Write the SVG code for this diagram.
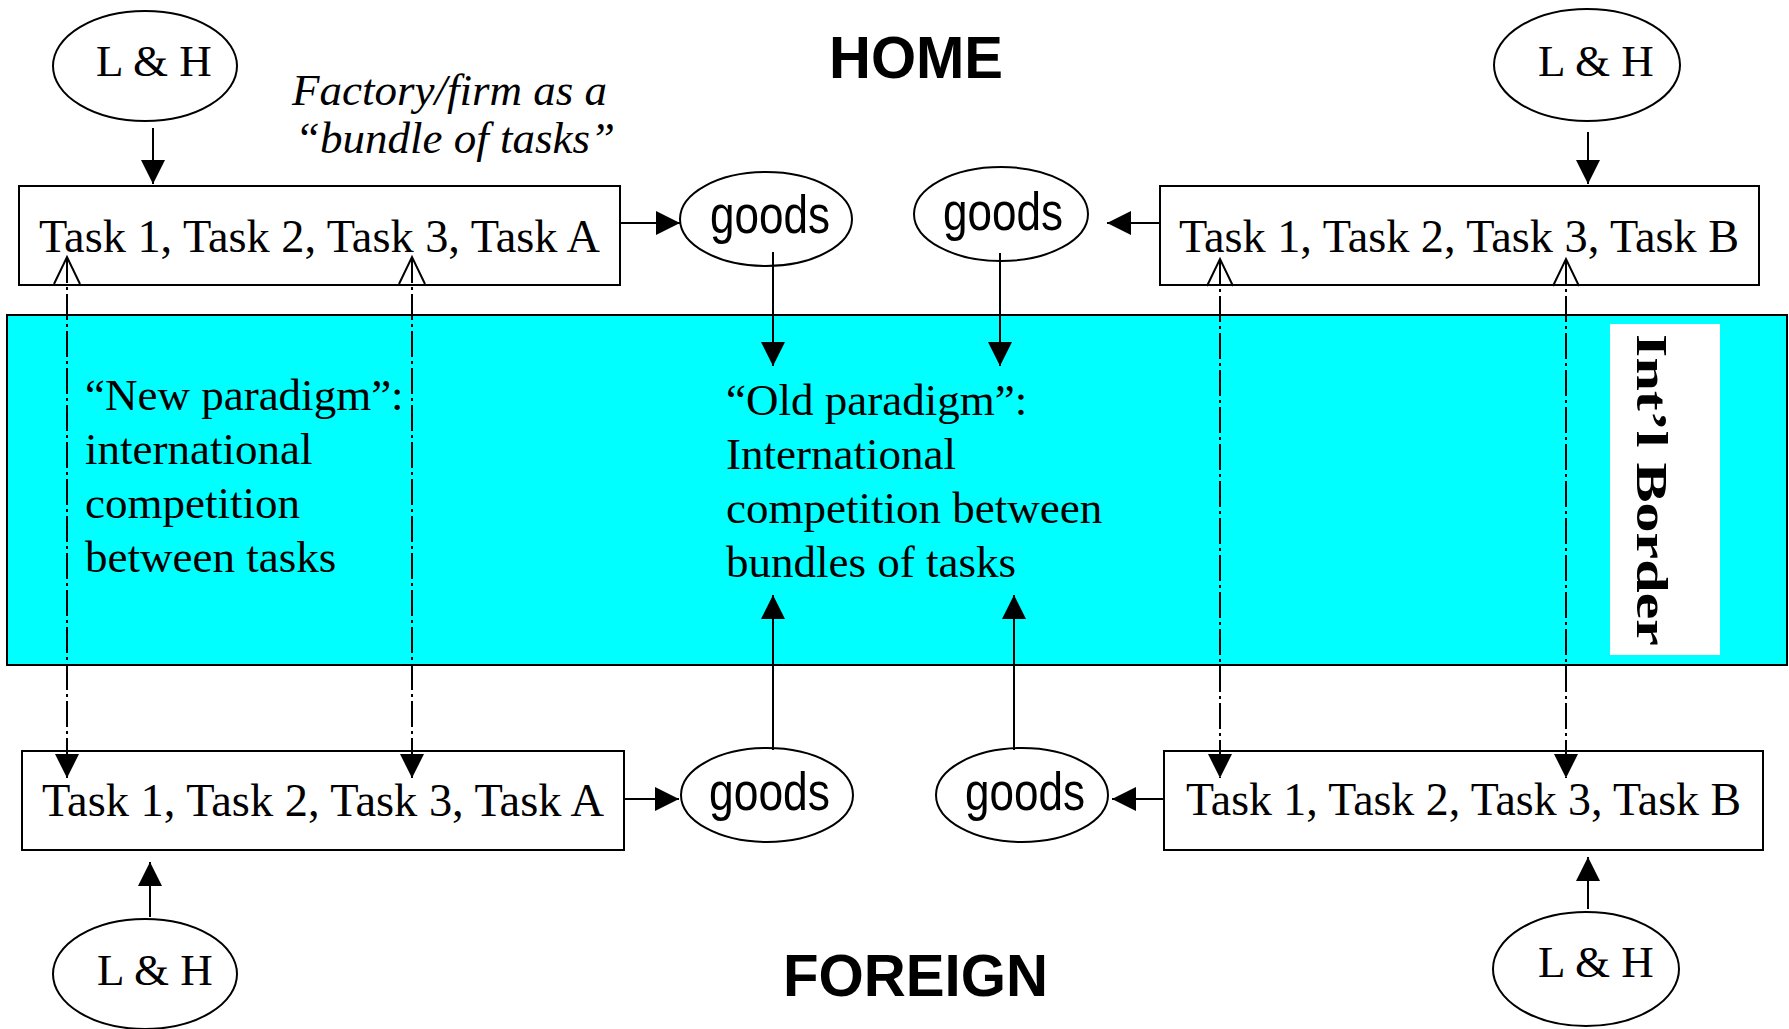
<svg xmlns="http://www.w3.org/2000/svg" width="1789" height="1029" viewBox="0 0 1789 1029">
<style>
.box{fill:#fff;stroke:#000;stroke-width:2}
.ell{fill:#fff;stroke:#000;stroke-width:2}
.t{font-family:"Liberation Serif","Times New Roman",serif;font-size:45px;fill:#000}
.tk{font-family:"Liberation Serif","Times New Roman",serif;font-size:47px;fill:#000}
.it{font-style:italic}
.g{font-family:"Liberation Sans",Arial,sans-serif;font-size:53px;fill:#000}
.hd{font-family:"Liberation Sans",Arial,sans-serif;font-weight:bold;font-size:59px;fill:#000}
.ln{fill:none;stroke:#000;stroke-width:2}
.dd{fill:none;stroke:#000;stroke-width:2;stroke-dasharray:26 4 3 4}
</style>
<defs>
<marker id="ah" markerUnits="userSpaceOnUse" viewBox="0 0 24 24" refX="24" refY="12" markerWidth="24" markerHeight="24" orient="auto">
<path d="M0,0 L24,12 L0,24 z" fill="#000" stroke="none"/>
</marker>
<marker id="oh" markerUnits="userSpaceOnUse" viewBox="-2 -2 32 32" refX="27" refY="13" markerWidth="32" markerHeight="32" orient="auto-start-reverse">
<path d="M0,0 L27,13 L0,26" fill="none" stroke="#000" stroke-width="2" stroke-dasharray="none"/>
</marker>
</defs>

<g id="border">
<rect x="7" y="315" width="1780" height="350" fill="#00ffff" stroke="#000" stroke-width="2"/>
<rect x="1610" y="324" width="110" height="331" fill="#fff"/>
<text class="t" font-weight="bold" font-size="75" text-anchor="middle" textLength="312" lengthAdjust="spacingAndGlyphs" transform="translate(1637,490) rotate(90)">Int’l Border</text>
</g>

<g id="labels">
<text class="hd" x="829" y="78" textLength="174" lengthAdjust="spacingAndGlyphs">HOME</text>
<text class="hd" x="783" y="996" textLength="265" lengthAdjust="spacingAndGlyphs">FOREIGN</text>
<text class="t it" x="292" y="105">Factory/firm as a</text>
<text class="t it" x="295" y="153">“bundle of tasks”</text>
</g>

<g id="new-paradigm">
<text class="t" x="85" y="410">“New paradigm”:</text>
<text class="t" x="85" y="464">international</text>
<text class="t" x="85" y="518">competition</text>
<text class="t" x="85" y="572">between tasks</text>
</g>

<g id="old-paradigm">
<text class="t" x="726" y="415">“Old paradigm”:</text>
<text class="t" x="726" y="469">International</text>
<text class="t" x="726" y="523">competition between</text>
<text class="t" x="726" y="577">bundles of tasks</text>
</g>

<g id="lh-home-a">
<ellipse class="ell" cx="145" cy="66" rx="92" ry="55"/>
<text class="t" x="96" y="76">L &amp; H</text>
</g>
<g id="lh-home-b">
<ellipse class="ell" cx="1587" cy="65" rx="93" ry="56"/>
<text class="t" x="1538" y="76">L &amp; H</text>
</g>
<g id="lh-foreign-a">
<ellipse class="ell" cx="145" cy="974" rx="92" ry="55"/>
<text class="t" x="97" y="985">L &amp; H</text>
</g>
<g id="lh-foreign-b">
<ellipse class="ell" cx="1586" cy="969" rx="93" ry="57"/>
<text class="t" x="1538" y="977">L &amp; H</text>
</g>

<g id="tasks-home-a">
<rect class="box" x="19" y="186" width="601" height="99"/>
<text class="tk" x="39" y="252" textLength="561" lengthAdjust="spacingAndGlyphs">Task 1, Task 2, Task 3, Task A</text>
</g>
<g id="tasks-home-b">
<rect class="box" x="1160" y="186" width="599" height="99"/>
<text class="tk" x="1179" y="252" textLength="560" lengthAdjust="spacingAndGlyphs">Task 1, Task 2, Task 3, Task B</text>
</g>
<g id="tasks-foreign-a">
<rect class="box" x="22" y="751" width="602" height="99"/>
<text class="tk" x="42" y="816" textLength="562" lengthAdjust="spacingAndGlyphs">Task 1, Task 2, Task 3, Task A</text>
</g>
<g id="tasks-foreign-b">
<rect class="box" x="1164" y="751" width="599" height="99"/>
<text class="tk" x="1186" y="815" textLength="555" lengthAdjust="spacingAndGlyphs">Task 1, Task 2, Task 3, Task B</text>
</g>

<g id="goods-home-a">
<ellipse class="ell" cx="766" cy="219" rx="86" ry="47"/>
<text class="g" x="710" y="233" textLength="120" lengthAdjust="spacingAndGlyphs">goods</text>
</g>
<g id="goods-home-b">
<ellipse class="ell" cx="1001" cy="214" rx="87" ry="47"/>
<text class="g" x="943" y="230" textLength="120" lengthAdjust="spacingAndGlyphs">goods</text>
</g>
<g id="goods-foreign-a">
<ellipse class="ell" cx="767" cy="795" rx="86" ry="47"/>
<text class="g" x="709" y="810" textLength="121" lengthAdjust="spacingAndGlyphs">goods</text>
</g>
<g id="goods-foreign-b">
<ellipse class="ell" cx="1022" cy="795" rx="86" ry="47"/>
<text class="g" x="965" y="810" textLength="120" lengthAdjust="spacingAndGlyphs">goods</text>
</g>

<g id="connectors">
<line class="ln" x1="153" y1="128" x2="153" y2="184" marker-end="url(#ah)"/>
<line class="ln" x1="1588" y1="132" x2="1588" y2="184" marker-end="url(#ah)"/>
<line class="ln" x1="620" y1="223" x2="680" y2="223" marker-end="url(#ah)"/>
<line class="ln" x1="1160" y1="223" x2="1107" y2="223" marker-end="url(#ah)"/>
<line class="ln" x1="773" y1="252" x2="773" y2="366" marker-end="url(#ah)"/>
<line class="ln" x1="1000" y1="253" x2="1000" y2="366" marker-end="url(#ah)"/>
<line class="ln" x1="773" y1="750" x2="773" y2="595" marker-end="url(#ah)"/>
<line class="ln" x1="1014" y1="750" x2="1014" y2="595" marker-end="url(#ah)"/>
<line class="ln" x1="624" y1="799" x2="679" y2="799" marker-end="url(#ah)"/>
<line class="ln" x1="1164" y1="799" x2="1112" y2="799" marker-end="url(#ah)"/>
<line class="ln" x1="150" y1="917" x2="150" y2="862" marker-end="url(#ah)"/>
<line class="ln" x1="1588" y1="909" x2="1588" y2="857" marker-end="url(#ah)"/>
<line class="dd" x1="67" y1="257" x2="67" y2="778" marker-start="url(#oh)" marker-end="url(#ah)"/>
<line class="dd" x1="412" y1="257" x2="412" y2="778" marker-start="url(#oh)" marker-end="url(#ah)"/>
<line class="dd" x1="1220" y1="259" x2="1220" y2="778" marker-start="url(#oh)" marker-end="url(#ah)"/>
<line class="dd" x1="1566" y1="259" x2="1566" y2="778" marker-start="url(#oh)" marker-end="url(#ah)"/>
</g>
</svg>
